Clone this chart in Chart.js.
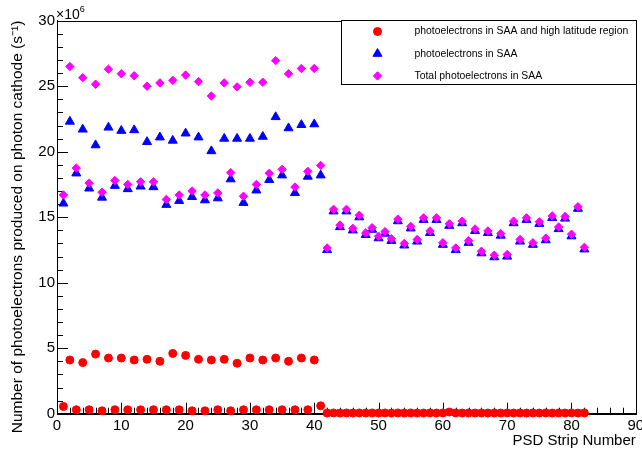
<!DOCTYPE html>
<html>
<head>
  <meta charset="utf-8">
  <title>PSD strip photoelectrons</title>
  <script src="https://cdn.jsdelivr.net/npm/chart.js"></script>
  <style>
    body {
      margin: 0;
      background: #ffffff;
    }
    canvas {
      display: block;
    }
  </style>
</head>
<body>
  <canvas id="psdChart" width="642" height="459"></canvas>

  <script>
    // strip numbers (x)
    const strips = [
      1, 2, 3, 4, 5, 6, 7, 8, 9, 10, 11, 12, 13, 14, 15, 16, 17, 18, 19, 20,
      21, 22, 23, 24, 25, 26, 27, 28, 29, 30, 31, 32, 33, 34, 35, 36, 37, 38, 39, 40,
      41, 42, 43, 44, 45, 46, 47, 48, 49, 50, 51, 52, 53, 54, 55, 56, 57, 58, 59, 60,
      61, 62, 63, 64, 65, 66, 67, 68, 69, 70, 71, 72, 73, 74, 75, 76, 77, 78, 79, 80,
      81, 82
    ];

    // values in units of 10^6 s^-1
    const highLatitude = [
      0.55, 4.1, 0.3, 3.9, 0.3, 4.55, 0.22, 4.25, 0.3, 4.25, 0.3, 4.1, 0.3, 4.15, 0.3, 4.0, 0.3, 4.6, 0.3, 4.45,
      0.22, 4.15, 0.22, 4.1, 0.3, 4.15, 0.22, 3.85, 0.3, 4.25, 0.3, 4.1, 0.3, 4.25, 0.3, 4.0, 0.3, 4.25, 0.3, 4.1,
      0.6, 0.05, 0.06, 0.05, 0.06, 0.05, 0.06, 0.05, 0.06, 0.05, 0.06, 0.05, 0.06, 0.05, 0.06, 0.05, 0.05, 0.06, 0.05, 0.06,
      0.13, 0.06, 0.05, 0.06, 0.05, 0.06, 0.05, 0.06, 0.05, 0.06, 0.05, 0.06, 0.05, 0.06, 0.05, 0.06, 0.05, 0.06, 0.05, 0.06,
      0.05, 0.06
    ];

    const inSAA = [
      16.05, 22.3, 18.35, 21.7, 17.2, 20.5, 16.5, 21.85, 17.4, 21.6, 17.15, 21.65, 17.35, 20.75, 17.3, 21.1, 15.95, 20.85, 16.25, 21.4,
      16.55, 21.1, 16.3, 20.05, 16.45, 21.0, 17.9, 21.0, 16.1, 21.0, 17.05, 21.15, 17.85, 22.65, 18.2, 21.8, 16.85, 22.05, 18.1, 22.1,
      18.2, 12.5, 15.45, 14.25, 15.45, 14.0, 15.0, 13.65, 14.05, 13.4, 13.75, 13.2, 14.7, 12.85, 14.15, 13.15, 14.8, 13.8, 14.8, 12.9,
      14.35, 12.5, 14.55, 13.05, 13.95, 12.25, 13.8, 11.95, 13.6, 12.0, 14.55, 13.15, 14.8, 12.9, 14.5, 13.25, 14.95, 14.1, 14.9, 13.55,
      15.65, 12.55
    ];

    const totalSAA = [
      16.7, 26.5, 18.75, 25.65, 17.6, 25.15, 16.9, 26.3, 17.8, 25.95, 17.5, 25.8, 17.7, 25.0, 17.7, 25.25, 16.35, 25.45, 16.7, 25.85,
      17.0, 25.35, 16.7, 24.25, 16.85, 25.25, 18.4, 24.95, 16.6, 25.3, 17.5, 25.3, 18.35, 26.95, 18.65, 25.95, 17.3, 26.35, 18.5, 26.35,
      18.95, 12.65, 15.6, 14.4, 15.6, 14.15, 15.15, 13.8, 14.2, 13.55, 13.9, 13.35, 14.85, 13.0, 14.3, 13.3, 14.95, 13.95, 14.95, 13.05,
      14.5, 12.65, 14.7, 13.2, 14.1, 12.4, 13.95, 12.1, 13.75, 12.15, 14.7, 13.3, 14.95, 13.05, 14.65, 13.4, 15.1, 14.25, 15.05, 13.7,
      15.8, 12.7
    ];

    const FONT = "'Liberation Sans', Arial, Helvetica, sans-serif";
    Chart.defaults.font.family = FONT;
    Chart.defaults.color = '#000';

    function toPoints(values) {
      return strips.map((s, i) => ({ x: s, y: values[i] }));
    }

    // ROOT style: ticks inside the frame, full box around the pad
    const frameTicks = {
      id: 'frameTicks',
      beforeDatasetsDraw(chart) {
        const { ctx, chartArea: a, scales } = chart;
        const px = v => Math.round(v) + 0.5;
        ctx.save();
        ctx.strokeStyle = '#000';
        ctx.lineWidth = 1;
        ctx.beginPath();
        for (let v = 0; v <= 90; v += 2) {
          const x = px(scales.x.getPixelForValue(v));
          const len = v % 10 === 0 ? 11 : 6;
          ctx.moveTo(x, a.bottom);
          ctx.lineTo(x, a.bottom - len);
        }
        for (let v = 0; v <= 30; v += 1) {
          const y = px(scales.y.getPixelForValue(v));
          const len = v % 5 === 0 ? 11 : 6;
          ctx.moveTo(a.left, y);
          ctx.lineTo(a.left + len, y);
        }
        ctx.stroke();
        ctx.strokeRect(px(a.left), px(a.top), Math.round(a.right - a.left), Math.round(a.bottom - a.top));
        ctx.restore();
      }
    };

    // boxed legend in the top right corner + the x10^6 exponent
    const boxLegend = {
      id: 'boxLegend',
      afterDraw(chart) {
        const { ctx, chartArea: a } = chart;
        const w = 295, h = 64;
        const x0 = Math.round(a.right - w) + 0.5;
        const y0 = Math.round(a.top - 1) + 0.5;
        ctx.save();
        ctx.fillStyle = '#fff';
        ctx.fillRect(x0, y0, w, h);
        ctx.strokeStyle = '#000';
        ctx.lineWidth = 1;
        ctx.strokeRect(x0, y0, w, h);

        ctx.font = '10.4px ' + FONT;
        ctx.textBaseline = 'middle';
        chart.data.datasets.forEach((ds, i) => {
          const y = y0 + 11 + i * 22.2;
          ctx.fillStyle = ds.backgroundColor;
          ctx.strokeStyle = ds.borderColor;
          Chart.helpers.drawPoint(ctx, {
            pointStyle: ds.pointStyle,
            radius: ds.pointRadius,
            borderWidth: ds.pointBorderWidth,
            rotation: 0
          }, x0 + 36, y);
          ctx.fillStyle = '#000';
          ctx.fillText(ds.label, x0 + 73, y);
        });

        ctx.fillStyle = '#000';
        ctx.textBaseline = 'alphabetic';
        ctx.font = '14px ' + FONT;
        ctx.fillText('\u00d710', a.left - 1, a.top - 2);
        const wx = ctx.measureText('\u00d710').width;
        ctx.font = '9px ' + FONT;
        ctx.fillText('6', a.left - 1 + wx, a.top - 9);
        ctx.restore();
      }
    };

    const ctx = document.getElementById('psdChart').getContext('2d');
    const psdChart = new Chart(ctx, {
      type: 'scatter',
      data: {
        datasets: [
          {
            label: 'photoelectrons in SAA and high latitude region',
            data: toPoints(highLatitude),
            pointStyle: 'circle',
            pointRadius: 4,
            pointBorderWidth: 1,
            backgroundColor: '#ff0000',
            borderColor: '#ff0000',
            clip: false,
            order: 2
          },
          {
            label: 'photoelectrons in SAA',
            data: toPoints(inSAA),
            pointStyle: 'triangle',
            pointRadius: 5.2,
            pointBorderWidth: 1,
            backgroundColor: '#0000ff',
            borderColor: '#0000ff',
            clip: false,
            order: 1
          },
          {
            label: 'Total photoelectrons in SAA',
            data: toPoints(totalSAA),
            pointStyle: 'rectRot',
            pointRadius: 4.2,
            pointBorderWidth: 1,
            backgroundColor: '#ff00ff',
            borderColor: '#ff00ff',
            clip: false,
            order: 0
          }
        ]
      },
      options: {
        responsive: false,
        animation: false,
        events: [],
        layout: {
          padding: { top: 20.7, right: 5, left: 0, bottom: 0 }
        },
        plugins: {
          legend: { display: false },
          tooltip: { enabled: false }
        },
        scales: {
          x: {
            type: 'linear',
            min: 0,
            max: 90,
            afterFit: s => {
              s.height = 45.3;
              s.paddingLeft = 0;
              s.paddingRight = 0;
            },
            grid: { display: false, drawTicks: false },
            border: { display: true, color: '#000', width: 1 },
            ticks: { stepSize: 10, padding: 3, font: { size: 15 }, color: '#000' },
            title: {
              display: true,
              text: 'PSD Strip Number',
              align: 'end',
              font: { size: 15 },
              color: '#000',
              padding: { top: 0, bottom: 9 }
            }
          },
          y: {
            type: 'linear',
            min: 0,
            max: 30,
            afterFit: s => {
              s.width = 57;
              s.paddingTop = 0;
              s.paddingBottom = 0;
            },
            grid: { display: false, drawTicks: false },
            border: { display: true, color: '#000', width: 1 },
            ticks: { stepSize: 5, padding: 2, font: { size: 15 }, color: '#000' },
            title: {
              display: true,
              text: 'Number of photoelectrons produced on photon cathode (s\u207b\u00b9)',
              align: 'end',
              font: { size: 15.5 },
              color: '#000',
              padding: { top: 8, bottom: 0 }
            }
          }
        }
      },
      plugins: [frameTicks, boxLegend]
    });
  </script>
</body>
</html>
